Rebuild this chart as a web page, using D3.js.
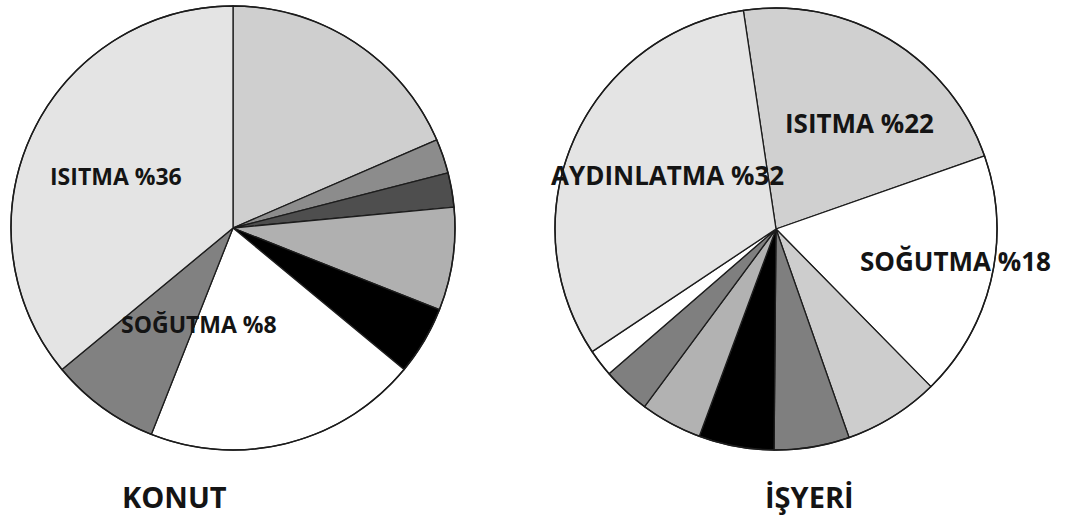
<!DOCTYPE html>
<html>
<head>
<meta charset="utf-8">
<script src="https://cdn.jsdelivr.net/npm/d3@7"></script>
<style>
  html, body { margin: 0; padding: 0; background: #fff; }
  svg { display: block; }
  text { font-family: "Open Sans", "Noto Sans", sans-serif; font-weight: 700; fill: #141414; }
</style>
</head>
<body>
<svg id="chart" width="1081" height="519"></svg>
<script>
// Household (KONUT) energy use shares, clockwise from 12 o'clock
const konutCategories = ["Su ısıtma", "Diğer A", "Diğer B", "Pişirme", "Diğer C", "Elektrikli cihazlar", "SOĞUTMA", "ISITMA"];
const konutValues     = [18.5, 2.5, 2.5, 7.5, 5, 20, 8, 36];

// Workplace (İŞYERİ) energy use shares, clockwise starting with heating
const isyeriCategories = ["ISITMA", "SOĞUTMA", "Havalandırma", "Su ısıtma", "Ofis cihazları", "Pişirme", "Soğutucu", "Diğer", "AYDINLATMA"];
const isyeriValues     = [22, 18, 7, 5.5, 5.5, 4.5, 3.5, 2, 32];

// Slice labels
const konutLabels  = [{ cat: "ISITMA",  text: "ISITMA %36" }, { cat: "SOĞUTMA", text: "SOĞUTMA %8" }];
const isyeriLabels = [{ cat: "ISITMA",  text: "ISITMA %22" }, { cat: "AYDINLATMA", text: "AYDINLATMA %32" }, { cat: "SOĞUTMA", text: "SOĞUTMA %18" }];
const chartTitles  = ["KONUT", "İŞYERİ"];

// Grey fills
const konutFills  = ["#cfcfcf", "#8c8c8c", "#4e4e4e", "#b0b0b0", "#000000", "#ffffff", "#818181", "#e4e4e4"];
const isyeriFills = ["#d0d0d0", "#ffffff", "#cdcdcd", "#7f7f7f", "#000000", "#b2b2b2", "#7f7f7f", "#ffffff", "#e4e4e4"];

const svg = d3.select("#chart");
svg.append("rect").attr("width", 1081).attr("height", 519).attr("fill", "#fff");

function drawPie(opts) {
  const { cx, cy, r, categories, values, fills, startDeg } = opts;
  const start = startDeg * Math.PI / 180;
  const pie = d3.pie().sort(null).value(d => d.v)
    .startAngle(start).endAngle(start + 2 * Math.PI);
  const arc = d3.arc().innerRadius(0).outerRadius(r);
  const color = d3.scaleOrdinal().domain(categories).range(fills);
  const data = categories.map((c, i) => ({ c, v: values[i] }));

  const g = svg.append("g").attr("transform", `translate(${cx},${cy})`);
  g.selectAll("path")
    .data(pie(data))
    .join("path")
    .attr("d", arc)
    .attr("fill", d => color(d.data.c))
    .attr("stroke", "#1c1c1c")
    .attr("stroke-width", 1.3)
    .attr("stroke-linejoin", "round");
  g.append("circle").attr("r", r).attr("fill", "none")
    .attr("stroke", "#1c1c1c").attr("stroke-width", 1.5);
  return g;
}

drawPie({ cx: 233, cy: 228, r: 222, categories: konutCategories, values: konutValues, fills: konutFills, startDeg: 0 });
drawPie({ cx: 776, cy: 229, r: 221, categories: isyeriCategories, values: isyeriValues, fills: isyeriFills, startDeg: -8.5 });

// Label placement
const konutLabelPos  = { "ISITMA": [50, 185, 23], "SOĞUTMA": [121, 333, 23] };
const isyeriLabelPos = { "ISITMA": [785, 133, 26], "AYDINLATMA": [551, 185, 26], "SOĞUTMA": [860, 271, 26] };

function drawLabels(labels, pos) {
  svg.selectAll(null)
    .data(labels)
    .join("text")
    .attr("x", d => pos[d.cat][0])
    .attr("y", d => pos[d.cat][1])
    .attr("font-size", d => pos[d.cat][2])
    .text(d => d.text);
}
drawLabels(konutLabels, konutLabelPos);
drawLabels(isyeriLabels, isyeriLabelPos);

svg.selectAll(null)
  .data(chartTitles)
  .join("text")
  .attr("x", (d, i) => [122, 765][i])
  .attr("y", 508)
  .attr("font-size", 29)
  .text(d => d);
</script>
</body>
</html>
